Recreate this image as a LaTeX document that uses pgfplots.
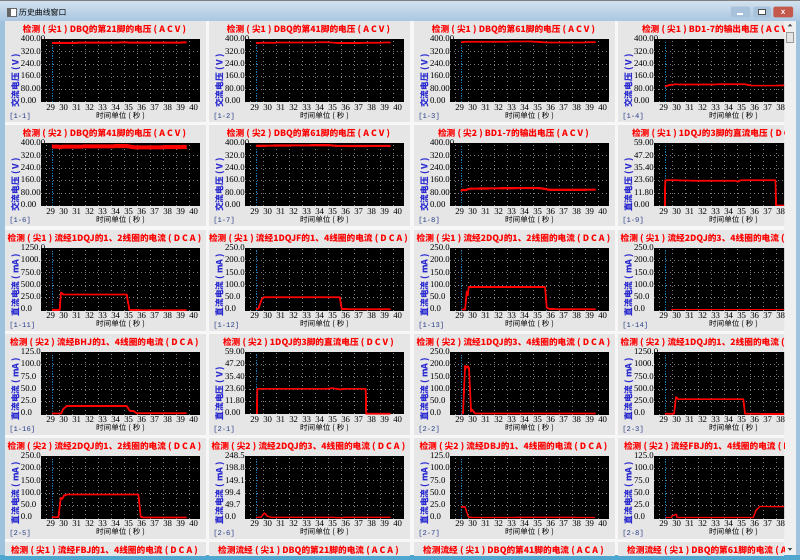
\documentclass[border=0pt]{standalone}
\usepackage{pgfplots}
\pgfplotsset{compat=1.18}
\usepackage{fontspec}
\newfontfamily\cjk{Noto Sans CJK SC}
\newfontfamily\tickf{Liberation Serif}
\newfontfamily\idf{Liberation Mono}
\newcommand\lb{\hspace{.25em}(\hspace{.25em}}
\newcommand\rb{\hspace{.25em})\hspace{.25em}}
\definecolor{panelbg}{HTML}{E6E6E6}
\definecolor{ylab}{HTML}{2A2AD0}
\definecolor{idc}{HTML}{283C88}
\definecolor{vline}{HTML}{1478B4}
\definecolor{gridc}{HTML}{7E7E7E}
\definecolor{bartop}{HTML}{D0E0EE}
\definecolor{barbot}{HTML}{A9C6E0}
\definecolor{edge}{HTML}{9FC3DC}
\definecolor{edgeb}{HTML}{4FA6CE}
\definecolor{btn}{HTML}{A8C2DC}
\definecolor{btnred}{HTML}{C4584A}
\pgfplotsset{
 V400/.style={ymax=400,ytick={80,160,240,320}},
 LV400/.style={yticklabels={0.00,80.00,160.00,240.00,320.00,400.00}},
 V59/.style={ymax=59,ytick={11.8,23.6,35.4,47.2}},
 LV59/.style={yticklabels={0.00,11.80,23.60,35.40,47.20,59.00}},
 A1250/.style={ymax=1250,ytick={250,500,750,1000}},
 LA1250/.style={yticklabels={0.0,250.0,500.0,750.0,1000.0,1250.0}},
 A250/.style={ymax=250,ytick={50,100,150,200}},
 LA250/.style={yticklabels={0.0,50.0,100.0,150.0,200.0,250.0}},
 A125/.style={ymax=125,ytick={25,50,75,100}},
 LA125/.style={yticklabels={0.0,25.0,50.0,75.0,100.0,125.0}},
 A248/.style={ymax=248.5,ytick={49.7,99.4,149.1,198.8}},
 LA248/.style={yticklabels={0.0,49.7,99.4,149.1,198.8,248.5}},
 common/.style={anchor=north west,scale only axis,width=119.25pt,height=47.25pt,
   xmin=28.56,xmax=40.79,xtick={29,30,31,32,33,34,35,36,37,38,39,40},
   major tick length=0pt,tick style={draw=none},ymin=0},
}
\newcommand{\ptitle}[3]{%
 \fill[panelbg] (#1*0.75pt,-#2*0.75pt) rectangle ++(150.75pt,-75.75pt);
 \node[anchor=center,inner sep=0pt,text=red] at (#1*0.75pt+74.6pt,-#2*0.75pt-6.75pt) {\cjk\bfseries\fontsize{6.5pt}{7pt}\selectfont #3};
}
% #1 panel x, #2 panel y, #3 title, #4 y label, #5 scale style, #6 id, #7 line width (pt), #8 coordinates
\newcommand{\panel}[8]{%
 \ptitle{#1}{#2}{#3}
 \node[anchor=west,inner sep=0pt,text=idc] at (#1*0.75pt+3pt,-#2*0.75pt-71.8pt) {\idf\fontsize{5.4pt}{6pt}\selectfont [#6]};
 \begin{axis}[common,#5,L#5,
   at={(#1*0.75pt+27pt,-#2*0.75pt-13.5pt)},
   axis line style={draw=none},
   xticklabels={29,30,31,32,33,34,35,36,37,38,39,40},
   x tick label style={font=\tickf\fontsize{6.6pt}{7pt}\selectfont,anchor=west,inner sep=0pt,xshift=-0.5pt,yshift=-4pt},
   ytick={0.127,1.087,2.06,3.04,4.02,5},ymax=5,
   y tick label style={font=\tickf\fontsize{6.6pt}{7pt}\selectfont,anchor=west,inner sep=0pt,xshift=-15.2pt},
   xlabel={\cjk\fontsize{5.7pt}{6pt}\selectfont 时间单位\lb 秒\rb},
   xlabel style={at={([yshift=-10.5pt]axis description cs:0.5,0)},anchor=center,inner sep=0pt},
   ylabel={\cjk\bfseries\fontsize{6.5pt}{7pt}\selectfont\textcolor{ylab}{#4}},
   ylabel style={at={([xshift=-19pt,yshift=-4.5pt]axis description cs:0,0)},anchor=west,inner sep=0pt},
 ]
 \end{axis}
 \begin{axis}[common,#5,
   at={(#1*0.75pt+27pt,-#2*0.75pt-13.5pt)},
   axis line style={draw=none},
   axis background/.style={fill=black},
   xticklabels={},yticklabels={},
   grid=major,grid style={gridc,line width=0.7pt,dash pattern=on 0.75pt off 2.25pt},
 ]
 \draw[vline,line width=0.6pt,dash pattern=on 1pt off 1pt] (rel axis cs:0.0711,0) -- (rel axis cs:0.0711,0.96);
 \addplot[red,no marks,line width=#7pt,line join=round] coordinates {#8};
 \end{axis}
}
\begin{document}
\begin{tikzpicture}
% window chrome
\fill[edge] (0,0) rectangle (600pt,-420pt);
\shade[top color=bartop,bottom color=barbot] (0,-1pt) rectangle (600pt,-15.75pt);
\fill[black!50] (0,0) rectangle (600pt,-1pt);
\fill[edgeb] (0,-416.25pt) rectangle (600pt,-420pt);
\fill[black!3] (3.75pt,-15.75pt) rectangle (597pt,-416.25pt);
% title
\fill[white] (5.5pt,-6pt) rectangle (12pt,-12.5pt);
\fill[black!60] (6.2pt,-6.8pt) rectangle (8.2pt,-11.8pt);
\draw[black!60,line width=0.3pt] (5.5pt,-6pt) rectangle (12pt,-12.5pt);
\node[anchor=west,inner sep=0pt] at (14.2pt,-9pt) {\cjk\fontsize{5.9pt}{6pt}\selectfont 历史曲线窗口};
% buttons
\fill[btn,rounded corners=1pt] (548.2pt,-5pt) rectangle (562.5pt,-13pt);
\fill[btn,rounded corners=1pt] (565pt,-5pt) rectangle (578.2pt,-13pt);
\fill[btnred,rounded corners=1pt] (580pt,-5pt) rectangle (594.8pt,-13pt);
\fill[white] (553pt,-9.8pt) rectangle (557.5pt,-11pt);
\draw[black!70,fill=white,line width=0.6pt] (569pt,-7.2pt) rectangle (574pt,-10.8pt);
\node[inner sep=0pt,text=white] at (587.4pt,-9pt) {\bfseries\sffamily\fontsize{7pt}{7pt}\selectfont x};
% scroll bar
\fill[black!6] (588pt,-15.75pt) rectangle (597pt,-416.25pt);
\fill[black!70] (590.8pt,-19.8pt) -- (594.2pt,-19.8pt) -- (592.5pt,-17.8pt) -- cycle;
\fill[black!70] (590.8pt,-411pt) -- (594.2pt,-411pt) -- (592.5pt,-413pt) -- cycle;
\draw[black!40,fill=black!10,line width=0.4pt] (589.5pt,-24pt) rectangle (595pt,-31.5pt);
\begin{scope}
\clip (3.75pt,-15.75pt) rectangle (588pt,-416.25pt);
% row 1
\panel{5}{21}{检测\lb 尖1\rb DBQ的第21脚的电压\lb A C V\rb}{交流电压\lb V\rb}{V400}{1-1}{1.5}{(29.4,375)(31,376)(33,377)(35,378)(36,377)(38,377)(39.77,378)}
\panel{209}{21}{检测\lb 尖1\rb DBQ的第41脚的电压\lb A C V\rb}{交流电压\lb V\rb}{V400}{1-2}{1.3}{(29.4,375)(31,377)(33,378)(35,379)(35.7,375)(37,375)(38.5,376)(39.77,378)}
\panel{414}{21}{检测\lb 尖1\rb DBQ的第61脚的电压\lb A C V\rb}{交流电压\lb V\rb}{V400}{1-3}{1.3}{(29.4,378)(29.7,383)(32,382)(34.5,385)(35.3,382)(36,378)(38,378)(39.77,379)}
\panel{618}{21}{检测\lb 尖1\rb BD1-7的输出电压\lb A C V\rb}{交流电压\lb V\rb}{V400}{1-4}{1.3}{(29.4,100)(29.8,108)(30.2,112)(32,111)(35,113)(35.6,112)(36.1,104)(38,104)(38.6,106)(39.77,104)}
% row 2
\panel{5}{125}{检测\lb 尖2\rb DBQ的第41脚的电压\lb A C V\rb}{交流电压\lb V\rb}{V400}{1-6}{3}{(29.4,378)(30,376)(32,378)(35.2,380)(35.7,373)(37,372)(39.77,375)}
\panel{209}{125}{检测\lb 尖2\rb DBQ的第61脚的电压\lb A C V\rb}{交流电压\lb V\rb}{V400}{1-7}{1.6}{(29.4,382)(31,384)(35,386)(35.6,382)(37,381)(39.77,382)}
\panel{414}{125}{检测\lb 尖2\rb BD1-7的输出电压\lb A C V\rb}{交流电压\lb V\rb}{V400}{1-8}{1.6}{(29.4,95)(29.55,104)(29.7,100)(30.1,110)(32,112)(35,114)(35.6,112)(36.2,103)(38,103)(39.77,104)}
\panel{618}{125}{检测\lb 尖1\rb 1DQJ的3脚的直流电压\lb D C V\rb}{直流电压\lb V\rb}{V59}{1-9}{1.3}{(29.4,0)(29.42,24)(30,24.1)(32,23.6)(34.8,23.6)(35,22.8)(35.2,24)(37.9,24.2)(37.95,0.5)(39.77,0.5)}
% row 3
\panel{5}{229.5}{检测\lb 尖1\rb 流经1DQJ的1、2线圈的电流\lb D C A\rb}{直流电流\lb mA\rb}{A1250}{1-11}{1.3}{(29.4,10)(30,10)(30.05,200)(30.1,357)(30.3,317)(33,317)(35.15,317)(35.36,10)(37,5)(39.77,5)}
\panel{209}{229.5}{检测\lb 尖1\rb 流经1DQJF的1、4线圈的电流\lb D C A\rb}{直流电流\lb mA\rb}{A250}{1-12}{1.3}{(29.4,5)(29.6,8)(29.85,45)(30,53)(32,53)(35.85,53)(36,6)(37,5)(39.77,5)}
\panel{414}{229.5}{检测\lb 尖1\rb 流经2DQJ的1、2线圈的电流\lb D C A\rb}{直流电流\lb mA\rb}{A250}{1-13}{1.3}{(29.46,4)(29.72,4)(29.85,75)(29.92,60)(30,93)(32,93)(35.87,93)(36,12)(36.2,6)(37,5)(39.77,5)}
\panel{618}{229.5}{检测\lb 尖1\rb 流经2DQJ的3、4线圈的电流\lb D C A\rb}{直流电流\lb mA\rb}{A250}{1-14}{1}{(29.9,3)(32,3)(36,3)(39.77,3)}
% row 4
\panel{5}{333.5}{检测\lb 尖2\rb 流经BHJ的1、4线圈的电流\lb D C A\rb}{直流电流\lb mA\rb}{A125}{1-16}{1.3}{(29.4,2)(30.1,2)(30.28,11)(30.54,17)(33,17)(35.15,17)(35.4,7)(35.67,7)(35.92,2.6)(37,2.5)(39.77,2.5)}
\panel{209}{333.5}{检测\lb 尖2\rb 1DQJ的3脚的直流电压\lb D C V\rb}{直流电压\lb V\rb}{V59}{2-1}{1.3}{(29.48,0.5)(29.5,24)(32,24)(34.8,24)(35.3,24.6)(35.9,23.5)(36.2,24)(37.85,24)(37.88,0.6)(39.77,0.6)}
\panel{414}{333.5}{检测\lb 尖2\rb 流经1DQJ的3、4线圈的电流\lb D C A\rb}{直流电流\lb mA\rb}{A250}{2-2}{1.3}{(29.46,4)(29.56,4)(29.72,193)(29.84,185)(29.92,192)(30.02,185)(30.18,12)(30.28,18)(30.48,4)(33,4)(39.77,4)}
\panel{618}{333.5}{检测\lb 尖2\rb 流经1DQJ的1、2线圈的电流\lb D C A\rb}{直流电流\lb mA\rb}{A1250}{2-3}{1.3}{(29.4,15)(30.1,15)(30.25,344)(30.43,305)(32,305)(35.43,305)(35.56,15)(37,12)(39.77,12)}
% row 5
\panel{5}{437.5}{检测\lb 尖2\rb 流经2DQJ的1、2线圈的电流\lb D C A\rb}{直流电流\lb mA\rb}{A250}{2-5}{1.3}{(29.4,5)(29.9,5)(30.08,82)(30.2,78)(30.33,91)(30.54,95)(33,95)(36.05,95)(36.23,7)(36.45,4)(39.77,4)}
\panel{209}{437.5}{检测\lb 尖2\rb 流经2DQJ的3、4线圈的电流\lb D C A\rb}{直流电流\lb mA\rb}{A248}{2-6}{1}{(29.4,5)(29.79,5)(30.05,22)(30.3,9)(30.56,5)(35.3,5)(35.6,3)(36.05,3)(36.2,5)(39.77,5)}
\panel{414}{437.5}{检测\lb 尖2\rb 流经DBJ的1、4线圈的电流\lb D C A\rb}{直流电流\lb mA\rb}{A125}{2-7}{1}{(29.4,23)(29.72,23)(29.97,3)(30.3,2)(33,2)(35,2.5)(39.7,2)}
\panel{618}{437.5}{检测\lb 尖2\rb 流经FBJ的1、4线圈的电流\lb D C A\rb}{直流电流\lb mA\rb}{A125}{2-8}{1}{(29.46,2)(29.9,2)(29.95,5)(30.3,8.6)(30.33,2)(33,2)(36.2,2)(36.4,16)(36.7,24)(38,23.5)(39.77,24)}
% row 6
\ptitle{5}{542}{检测\lb 尖1\rb 流经FBJ的1、4线圈的电流\lb D C A\rb}
\ptitle{209}{542}{检测流经\lb 尖1\rb DBQ的第21脚的电流\lb A C A\rb}
\ptitle{414}{542}{检测流经\lb 尖1\rb DBQ的第41脚的电流\lb A C A\rb}
\ptitle{618}{542}{检测流经\lb 尖1\rb DBQ的第61脚的电流\lb A C A\rb}
\end{scope}
\pgfresetboundingbox
\path[use as bounding box] (0,0) rectangle (600pt,-420pt);
\end{tikzpicture}
\end{document}
